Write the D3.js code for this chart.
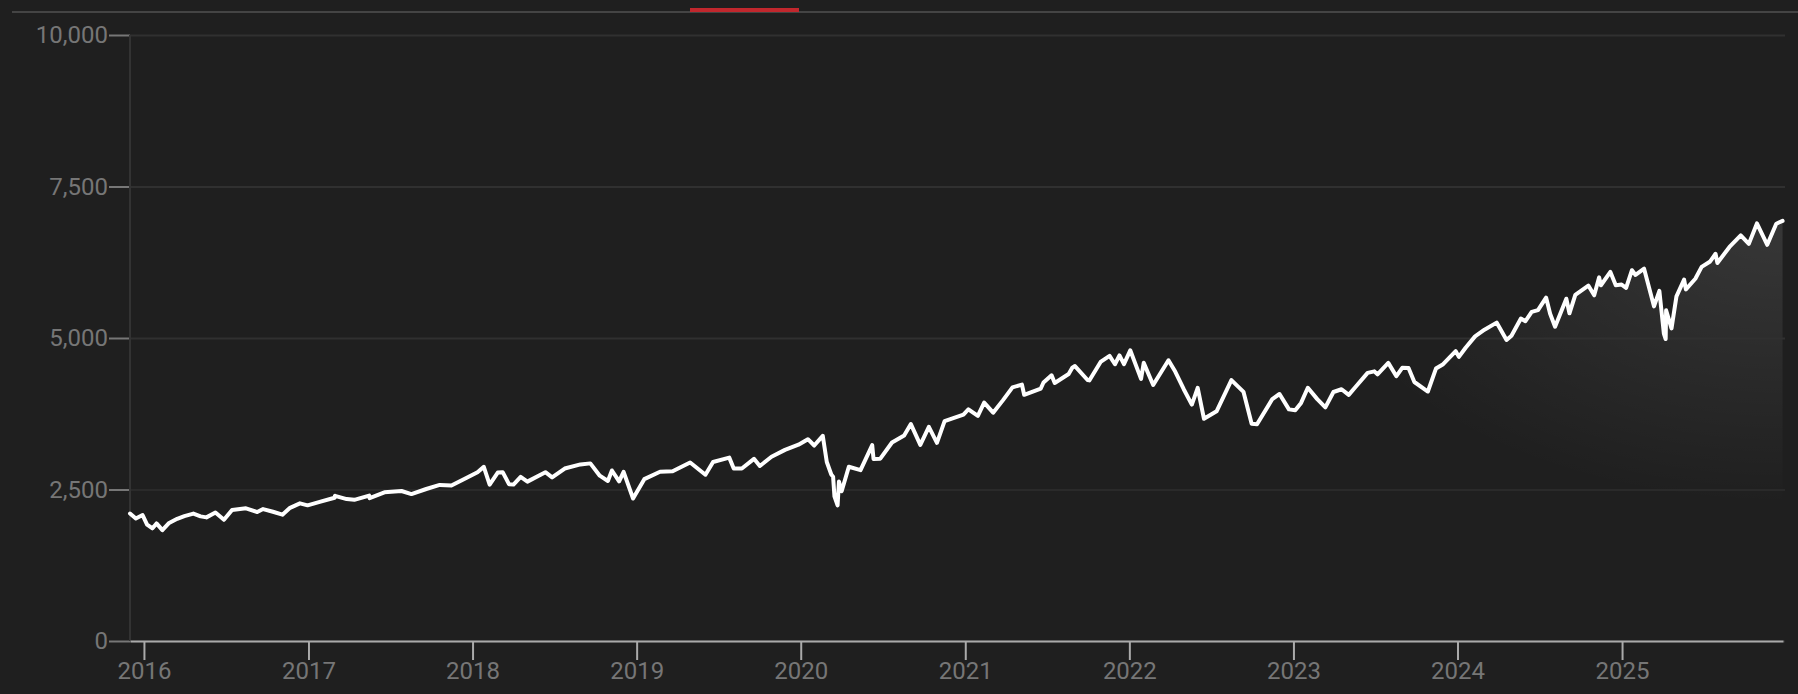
<!DOCTYPE html>
<html>
<head>
<meta charset="utf-8">
<script src="https://cdn.jsdelivr.net/npm/d3@7"></script>
<style>
  html, body { margin: 0; padding: 0; background: #1f1f1f; }
  svg { display: block; }
  text { font-family: Roboto, "Noto Sans", sans-serif; }
</style>
</head>
<body>
<svg id="chart" width="1798" height="694"></svg>
<script>
// ---- data (index closes), grouped by year: [date, close] ----
const y2015 = [["2015-12-01",2103],["2015-12-14",2021],["2015-12-29",2078]];
const y2016 = [["2016-01-08",1922],["2016-01-20",1859],["2016-01-29",1940],["2016-02-11",1829],["2016-02-26",1948],
  ["2016-03-15",2016],["2016-03-31",2060],["2016-04-20",2102],["2016-05-06",2057],["2016-05-19",2040],["2016-06-08",2119],
  ["2016-06-27",2000],["2016-07-15",2162],["2016-08-15",2190],["2016-09-09",2128],["2016-09-22",2177],["2016-10-14",2133],
  ["2016-11-04",2085],["2016-11-21",2198],["2016-12-13",2271],["2016-12-30",2239]];
const y2017 = [["2017-01-26",2296],["2017-02-28",2364],["2017-03-01",2396],["2017-03-27",2342],["2017-04-13",2329],
  ["2017-05-16",2400],["2017-05-17",2357],["2017-06-19",2453],["2017-07-27",2475],["2017-08-18",2425],["2017-09-20",2508],
  ["2017-10-20",2575],["2017-11-15",2565],["2017-12-18",2690]];
const y2018 = [["2018-01-12",2786],["2018-01-26",2873],["2018-02-08",2581],["2018-02-26",2780],["2018-03-09",2786],
  ["2018-03-23",2588],["2018-04-02",2582],["2018-04-18",2708],["2018-05-03",2630],["2018-06-12",2786],["2018-06-27",2699],
  ["2018-07-25",2846],["2018-08-29",2914],["2018-09-20",2931],["2018-10-11",2728],["2018-10-29",2641],["2018-11-07",2814],
  ["2018-11-23",2633],["2018-12-03",2790],["2018-12-24",2351]];
const y2019 = [["2019-01-18",2671],["2019-02-22",2793],["2019-03-22",2800],["2019-04-30",2946],["2019-06-03",2744],
  ["2019-06-20",2954],["2019-07-26",3026],["2019-08-05",2845],["2019-08-23",2847],["2019-09-19",3006],["2019-10-02",2888],
  ["2019-10-28",3040],["2019-11-27",3154],["2019-12-27",3240]];
const y2020 = [["2020-01-17",3330],["2020-01-31",3226],["2020-02-19",3386],["2020-02-28",2954],["2020-03-09",2747],
  ["2020-03-13",2711],["2020-03-16",2386],["2020-03-23",2237],["2020-03-26",2631],["2020-04-01",2471],["2020-04-17",2875],
  ["2020-05-13",2820],["2020-06-08",3232],["2020-06-11",3002],["2020-06-26",3009],["2020-07-22",3276],["2020-08-18",3390],
  ["2020-09-02",3580],["2020-09-23",3237],["2020-10-12",3534],["2020-10-30",3270],["2020-11-16",3627],["2020-12-28",3735]];
const y2021 = [["2021-01-08",3824],["2021-01-29",3714],["2021-02-12",3934],["2021-03-04",3768],["2021-03-26",3975],
  ["2021-04-16",4185],["2021-05-07",4232],["2021-05-12",4063],["2021-06-18",4166],["2021-06-24",4266],["2021-07-12",4385],
  ["2021-07-19",4258],["2021-08-19",4405],["2021-08-27",4509],["2021-09-02",4537],["2021-09-30",4307],["2021-10-04",4300],
  ["2021-10-29",4605],["2021-11-18",4705],["2021-11-30",4567],["2021-12-10",4712],["2021-12-20",4568]];
const y2022 = [["2022-01-03",4797],["2022-01-27",4326],["2022-02-02",4590],["2022-02-23",4225],["2022-03-29",4632],
  ["2022-04-13",4447],["2022-05-02",4155],["2022-05-20",3901],["2022-06-02",4177],["2022-06-16",3667],["2022-07-14",3790],
  ["2022-08-16",4305],["2022-09-12",4110],["2022-09-30",3586],["2022-10-12",3577],["2022-11-15",3992],["2022-12-01",4076],
  ["2022-12-22",3822]];
const y2023 = [["2023-01-05",3808],["2023-01-18",3929],["2023-02-02",4179],["2023-02-23",3991],["2023-03-13",3855],
  ["2023-03-31",4109],["2023-04-18",4154],["2023-05-04",4061],["2023-05-19",4191],["2023-06-15",4425],["2023-06-30",4450],
  ["2023-07-07",4399],["2023-07-31",4589],["2023-08-18",4370],["2023-08-31",4508],["2023-09-14",4505],["2023-09-27",4274],
  ["2023-10-27",4117],["2023-11-14",4496],["2023-11-30",4568],["2023-12-28",4783]];
const y2024 = [["2024-01-04",4688],["2024-01-19",4840],["2024-02-09",5027],["2024-03-01",5137],["2024-03-28",5254],
  ["2024-04-19",4967],["2024-04-30",5036],["2024-05-21",5321],["2024-05-31",5278],["2024-06-14",5431],["2024-06-28",5460],
  ["2024-07-16",5667],["2024-07-25",5399],["2024-08-05",5186],["2024-08-30",5648],["2024-09-06",5408],["2024-09-19",5713],
  ["2024-10-18",5865],["2024-10-31",5705],["2024-11-11",6001],["2024-11-15",5870],["2024-12-06",6090],["2024-12-18",5872],
  ["2024-12-31",5882]];
const y2025 = [["2025-01-10",5827],["2025-01-23",6119],["2025-01-31",6041],["2025-02-19",6144],["2025-03-13",5522],
  ["2025-03-25",5777],["2025-04-04",5074],["2025-04-08",4983],["2025-04-09",5457],["2025-04-21",5158],["2025-05-02",5687],
  ["2025-05-19",5963],["2025-05-23",5802],["2025-06-13",5977],["2025-06-27",6173],["2025-07-16",6263],["2025-07-28",6390],
  ["2025-08-01",6238],["2025-08-28",6502],["2025-09-22",6693],["2025-10-10",6553],["2025-10-28",6891],["2025-11-20",6538],
  ["2025-12-10",6886],["2025-12-24",6932]];
const yTicks = [0, 2500, 5000, 7500, 10000];
const xDomain = ["2015-12-01", "2025-12-25"];

(function () {
  const svg = d3.select("#chart");
  const W = 1798, H = 694;
  const mLeft = 130, mRight = 1783, mTop = 35, mBottom = 641;

  svg.append("rect").attr("width", W).attr("height", H).attr("fill", "#1f1f1f");

  // top decoration
  svg.append("line").attr("x1", 12).attr("x2", W).attr("y1", 12).attr("y2", 12)
    .attr("stroke", "#444").attr("stroke-width", 2);
  svg.append("rect").attr("x", 690).attr("y", 8).attr("width", 109).attr("height", 4).attr("fill", "#c1272d");

  const parse = d3.timeParse("%Y-%m-%d");
  const data = [].concat(y2015, y2016, y2017, y2018, y2019, y2020, y2021, y2022, y2023, y2024, y2025)
    .map(([d, v]) => ({ date: parse(d), value: v }));

  const x = d3.scaleTime().domain(xDomain.map(parse)).range([mLeft, mRight]);
  const y = d3.scaleLinear().domain([0, 10000]).range([mBottom, mTop]);

  // elliptical glow under the line, brightest at top right
  const defs = svg.append("defs");
  const grad = defs.append("radialGradient").attr("id", "areaGrad")
    .attr("gradientUnits", "userSpaceOnUse")
    .attr("cx", 0).attr("cy", 0).attr("r", 480)
    .attr("gradientTransform", `translate(${mRight},${y(7000)}) scale(1,0.6)`);
  grad.append("stop").attr("offset", 0).attr("stop-color", "#fff").attr("stop-opacity", 0.11);
  grad.append("stop").attr("offset", 0.45).attr("stop-color", "#fff").attr("stop-opacity", 0.06);
  grad.append("stop").attr("offset", 1).attr("stop-color", "#fff").attr("stop-opacity", 0);

  // area
  const area = d3.area().x(d => x(d.date)).y0(y(0)).y1(d => y(d.value));
  svg.append("path").datum(data).attr("d", area).attr("fill", "url(#areaGrad)");

  // y axis with gridlines
  const yAxis = d3.axisLeft(y).tickValues(yTicks).tickFormat(d3.format(",")).tickSize(21).tickPadding(1);
  const gy = svg.append("g").attr("transform", `translate(${mLeft},0)`).call(yAxis);
  gy.select(".domain").remove();
  gy.selectAll(".tick line").attr("stroke", "#777").attr("stroke-width", 2);
  gy.selectAll(".tick text").attr("fill", "#767676").attr("font-size", 24);
  gy.selectAll(".tick").append("line").attr("x1", 0).attr("x2", mRight - mLeft + 2)
    .attr("stroke", d => d === 2500 ? "#2a2a2a" : "#303030").attr("stroke-width", 2);
  svg.append("line").attr("x1", mLeft).attr("x2", mLeft).attr("y1", mTop).attr("y2", mBottom)
    .attr("stroke", "#333").attr("stroke-width", 2);

  // x axis
  const xAxis = d3.axisBottom(x).ticks(d3.timeYear.every(1)).tickFormat(d3.timeFormat("%Y"))
    .tickSizeInner(19).tickSizeOuter(0).tickPadding(2);
  const gx = svg.append("g").attr("transform", `translate(0,${mBottom})`).call(xAxis);
  gx.select(".domain").attr("stroke", "#aaa").attr("stroke-width", 2);
  gx.selectAll(".tick line").attr("stroke", "#aaa").attr("stroke-width", 2);
  gx.selectAll(".tick text").attr("fill", "#767676").attr("font-size", 24);

  // line
  const line = d3.line().x(d => x(d.date)).y(d => y(d.value));
  svg.append("path").datum(data).attr("d", line).attr("fill", "none")
    .attr("stroke", "#fff").attr("stroke-width", 4)
    .attr("stroke-linejoin", "round").attr("stroke-linecap", "round");
})();
</script>
</body>
</html>
